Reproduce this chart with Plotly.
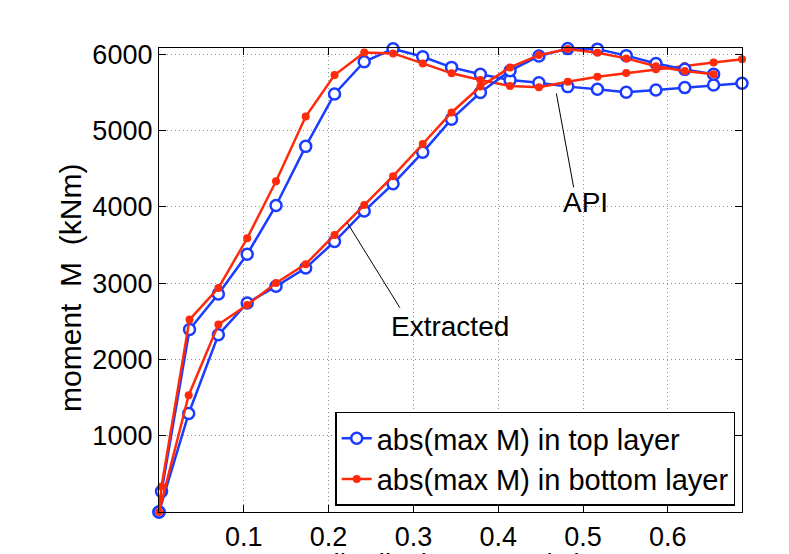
import plotly.graph_objects as go

# pile displacement (m)
x_api = [0, 0.003, 0.036, 0.070, 0.104, 0.138, 0.173, 0.207, 0.242, 0.276, 0.311,
         0.345, 0.379, 0.414, 0.448, 0.482, 0.517, 0.551, 0.586, 0.620, 0.654, 0.6875]
x_ext = [0, 0.035, 0.070, 0.104, 0.138, 0.173, 0.207, 0.242, 0.276, 0.311,
         0.345, 0.379, 0.414, 0.448, 0.482, 0.517, 0.551, 0.586, 0.620, 0.654]

# moment M (kNm) - API curves
api_top = [0, 270, 2391, 2857, 3378, 4017, 4791, 5478, 5900, 6070, 5965,
           5826, 5735, 5661, 5626, 5574, 5539, 5500, 5530, 5561, 5596, 5618]
api_bottom = [0, 335, 2521, 2935, 3587, 4334, 5182, 5726, 6022, 6009, 5878,
              5748, 5661, 5583, 5565, 5639, 5704, 5752, 5800, 5845, 5891, 5933]

# moment M (kNm) - Extracted curves
ext_top = [0, 1291, 2322, 2739, 2957, 3196, 3544, 3943, 4300, 4713,
           5148, 5496, 5783, 5974, 6072, 6065, 5980, 5878, 5800, 5735]
ext_bottom = [0, 1530, 2456, 2713, 3000, 3248, 3630, 4022, 4400, 4822,
              5235, 5574, 5826, 5987, 6068, 6017, 5944, 5840, 5778, 5735]

x_ticks = [0.1, 0.2, 0.3, 0.4, 0.5, 0.6]
y_ticks = [1000, 2000, 3000, 4000, 5000, 6000]

BLUE = "#1a3cff"
RED = "#ff2a0a"
FONT = "Liberation Sans, Arial, Helvetica, sans-serif"

top_style = dict(mode="lines+markers",
                 line=dict(color=BLUE, width=2.5),
                 marker=dict(symbol="circle", size=11, color="white",
                             line=dict(color=BLUE, width=2.5)),
                 cliponaxis=False)
bot_style = dict(mode="lines+markers",
                 line=dict(color=RED, width=2.5),
                 marker=dict(symbol="circle", size=8, color=RED,
                             line=dict(color=RED, width=0)),
                 cliponaxis=False)

fig = go.Figure()
fig.add_trace(go.Scatter(x=x_api, y=api_top, name="abs(max M) in top layer",
                         showlegend=True, **top_style))
fig.add_trace(go.Scatter(x=x_api, y=api_bottom, name="abs(max M) in bottom layer",
                         showlegend=True, **bot_style))
fig.add_trace(go.Scatter(x=x_ext, y=ext_top, name="abs(max M) in top layer",
                         showlegend=False, **top_style))
fig.add_trace(go.Scatter(x=x_ext, y=ext_bottom, name="abs(max M) in bottom layer",
                         showlegend=False, **bot_style))

# annotation leader lines
fig.add_shape(type="line", xref="x", yref="y", x0=0.4686, y0=5485, x1=0.489, y1=4254,
              line=dict(color="black", width=1))
fig.add_shape(type="line", xref="x", yref="y", x0=0.222, y0=3790, x1=0.284, y1=2677,
              line=dict(color="black", width=1))

fig.add_annotation(x=0.5024, y=4052, xref="x", yref="y", text="API", showarrow=False,
                   font=dict(family=FONT, size=28, color="black"))
fig.add_annotation(x=0.3428, y=2428, xref="x", yref="y", text="Extracted", showarrow=False,
                   font=dict(family=FONT, size=28, color="black"))

# x-axis title (cut off at the bottom of the figure, as in the reference)
fig.add_annotation(x=0.5, y=-0.0725, xref="paper", yref="paper", xanchor="center",
                   yanchor="top", text="pile displacement (m)", showarrow=False,
                   font=dict(family=FONT, size=28, color="black"))

# y-axis title
fig.add_annotation(x=-0.151, y=0.4828, xref="paper", yref="paper", xanchor="center",
                   yanchor="middle", textangle=-90,
                   text="moment\u00a0\u00a0M\u00a0\u00a0(kNm)", showarrow=False,
                   font=dict(family=FONT, size=30, color="black"))

axis_common = dict(showline=True, linecolor="black", linewidth=1.3, mirror="ticks",
                   ticks="inside", ticklen=7, tickcolor="black", tickwidth=1,
                   showgrid=True, gridcolor="#8c8c8c", griddash="1px,3px", gridwidth=1,
                   zeroline=False, tickfont=dict(family=FONT, size=27, color="black"))

fig.update_xaxes(range=[0, 0.6875], tickvals=x_ticks,
                 ticktext=[f"{v:g}" for v in x_ticks], **axis_common)
fig.update_yaxes(range=[0, 6080], tickvals=y_ticks,
                 ticktext=[str(v) for v in y_ticks], **axis_common)

fig.update_layout(
    width=789, height=554,
    margin=dict(l=159, r=47, t=48, b=42, autoexpand=False),
    paper_bgcolor="white", plot_bgcolor="white",
    font=dict(family=FONT, color="black"),
    legend=dict(x=0.9887, y=0.0136, xanchor="right", yanchor="bottom",
                bgcolor="white", bordercolor="black", borderwidth=1.3,
                font=dict(family=FONT, size=29, color="black"),
                tracegroupgap=0, itemsizing="trace", traceorder="normal"),
)

fig.write_html("out.html")
